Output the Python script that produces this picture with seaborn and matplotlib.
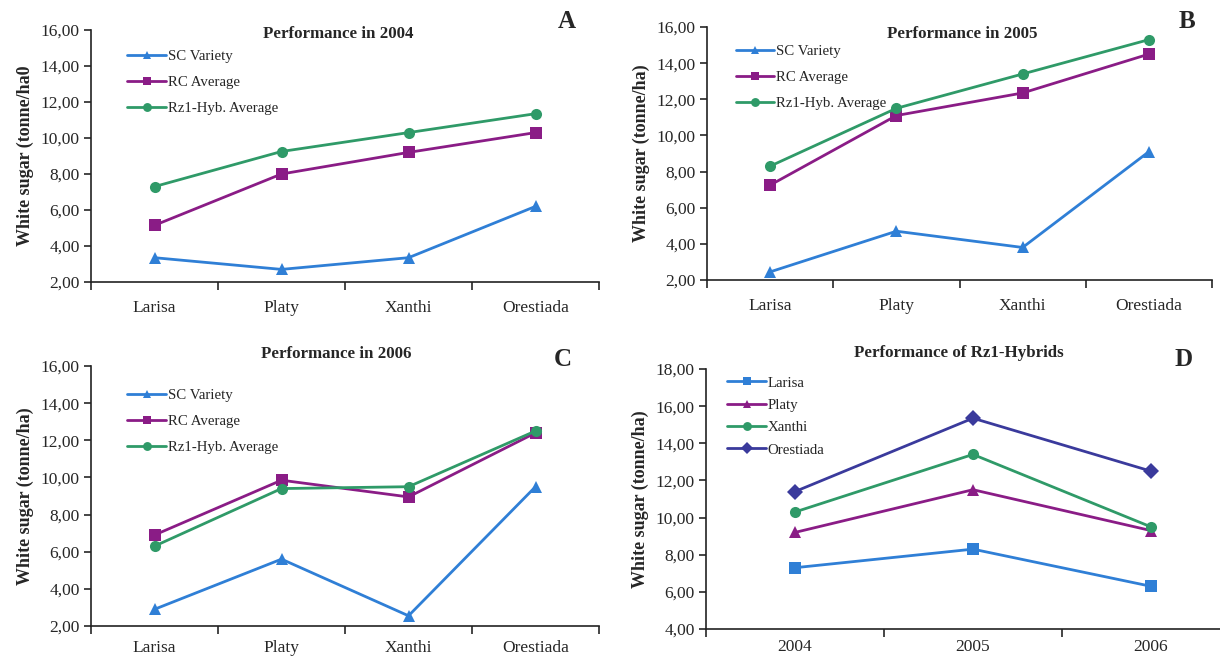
import matplotlib
matplotlib.use("Agg")
import matplotlib.pyplot as plt
from matplotlib.ticker import FuncFormatter, FixedLocator
import seaborn as sns
import pandas as pd

# Datos
sites = ["Larisa", "Platy", "Xanthi", "Orestiada"]
years = ["2004", "2005", "2006"]
series_names = ["SC Variety", "RC Average", "Rz1-Hyb. Average"]

sc_2004 = [3.35, 2.70, 3.35, 6.20]
rc_2004 = [5.15, 8.00, 9.20, 10.30]
rz_2004 = [7.30, 9.25, 10.30, 11.35]

sc_2005 = [2.45, 4.70, 3.80, 9.10]
rc_2005 = [7.25, 11.10, 12.35, 14.50]
rz_2005 = [8.30, 11.50, 13.40, 15.30]

sc_2006 = [2.90, 5.60, 2.55, 9.50]
rc_2006 = [6.90, 9.85, 8.95, 12.40]
rz_2006 = [6.30, 9.40, 9.50, 12.50]

larisa_rz = [7.30, 8.30, 6.30]
platy_rz = [9.20, 11.50, 9.30]
xanthi_rz = [10.30, 13.40, 9.50]
orestiada_rz = [11.40, 15.35, 12.50]

sns.set_style("ticks")
plt.rcParams["font.family"] = ["Liberation Serif", "DejaVu Serif"]

BLUE = "#2f7fd6"
PURPLE = "#8a1c86"
GREEN = "#2f9a68"
INDIGO = "#3a3a9c"

W, H = 1220, 660
fig = plt.figure(figsize=(12.2, 6.6), dpi=100)


def tabla(cats, valores, nombres):
    filas = []
    for nombre, vals in zip(nombres, valores):
        for c, v in zip(cats, vals):
            filas.append({"cat": c, "valor": v, "serie": nombre})
    return pd.DataFrame(filas)


def coma(v, pos):
    return f"{v:.2f}".replace(".", ",")


def caja(x0, x1, y0, y1):
    return [x0 / W, 1 - y1 / H, (x1 - x0) / W, (y1 - y0) / H]


def panel(ax, df, nombres, colores, marcadores, ylabel, ylim, ncat, xmax,
          leg_anchor, leg_sp, xpad=13):
    sns.lineplot(data=df, x="cat", y="valor", hue="serie", style="serie",
                 hue_order=nombres, style_order=nombres, palette=colores,
                 markers=marcadores, dashes=False, markersize=8, linewidth=2,
                 markeredgewidth=0, sort=False, ax=ax)
    ax.set_ylim(*ylim)
    ax.set_xlim(-0.5, xmax)
    ax.yaxis.set_major_formatter(FuncFormatter(coma))
    ax.set_yticks(range(int(ylim[0]), int(ylim[1]) + 1, 2))
    ax.tick_params(axis="x", which="major", length=0, pad=xpad, labelsize=12.5)
    ax.xaxis.set_minor_locator(FixedLocator([i - 0.5 for i in range(ncat + 1)]))
    ax.tick_params(axis="x", which="minor", length=6, width=1.2, direction="out")
    ax.tick_params(axis="y", length=5, width=1.2, labelsize=12.5, pad=3)
    sns.despine(ax=ax)
    for s in ["left", "bottom"]:
        ax.spines[s].set_linewidth(1.2)
        ax.spines[s].set_color("#222222")
    ax.set_xlabel("")
    ax.set_ylabel(ylabel, fontsize=13, fontweight="bold", labelpad=5)
    leg = ax.legend(loc="upper left", bbox_to_anchor=leg_anchor, frameon=False,
                    fontsize=10.7, handlelength=2.6, handletextpad=0.1,
                    labelspacing=leg_sp, borderaxespad=0, markerscale=0.8)
    return leg


def rotulo(x, y, texto, size, peso="bold"):
    fig.text(x / W, 1 - y / H, texto, ha="center", va="center",
             fontsize=size, fontweight=peso)


axA = fig.add_axes(caja(91, 599, 30, 282))
axB = fig.add_axes(caja(707, 1212, 27, 280))
axC = fig.add_axes(caja(91, 599, 366, 626))
axD = fig.add_axes(caja(706, 1220, 369, 629))

cols3 = [BLUE, PURPLE, GREEN]
mk3 = ["^", "s", "o"]

panel(axA, tabla(sites, [sc_2004, rc_2004, rz_2004], series_names), series_names,
      cols3, mk3, "White sugar (tonne/ha0", (2, 16), 4, 3.5, (0.06, 0.945), 0.85)
panel(axB, tabla(sites, [sc_2005, rc_2005, rz_2005], series_names), series_names,
      cols3, mk3, "White sugar (tonne/ha)", (2, 16), 4, 3.5, (0.045, 0.955), 0.85)
panel(axC, tabla(sites, [sc_2006, rc_2006, rz_2006], series_names), series_names,
      cols3, mk3, "White sugar (tonne/ha)", (2, 16), 4, 3.5, (0.06, 0.935), 0.85,
      xpad=10)
panel(axD, tabla(years, [larisa_rz, platy_rz, xanthi_rz, orestiada_rz], sites),
      sites, [BLUE, PURPLE, GREEN, INDIGO], ["s", "^", "o", "D"],
      "White sugar (tonne/ha)", (4, 18), 3, 2.388, (0.03, 0.995), 0.6, xpad=7)

rotulo(338, 34, "Performance in 2004", 12.2)
rotulo(962, 34, "Performance in 2005", 12.2)
rotulo(336, 354, "Performance in 2006", 12.2)
rotulo(959, 353, "Performance of Rz1-Hybrids", 12.2)
rotulo(567, 22, "A", 18)
rotulo(1187, 21, "B", 18)
rotulo(563, 360, "C", 18)
rotulo(1184, 360, "D", 18)

fig.savefig("out.png", dpi=100, facecolor="white")
